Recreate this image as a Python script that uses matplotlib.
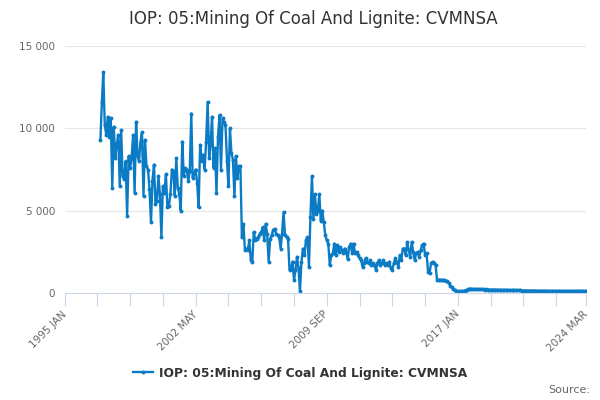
import numpy as np
import pandas as pd
from matplotlib import pyplot as plt
from matplotlib.lines import Line2D

# monthly values, 1997 JAN .. 2024 MAR
v1997 = [9300, 11600, 13400, 10200, 9600, 10700, 9500, 10600, 6400, 10100, 8200, 9000]
v1998 = [9600, 6500, 9900, 7100, 6900, 8000, 4700, 8300, 7600, 8200, 9600, 6100]
v1999 = [10400, 8300, 8000, 9200, 9750, 5900, 9300, 7700, 7500, 6300, 4300, 6800]
v2000 = [7800, 5400, 5600, 7100, 6000, 3400, 6500, 6100, 7200, 5200, 5300, 6000]
v2001 = [7500, 7400, 5900, 8200, 6400, 6000, 5000, 9200, 7100, 7600, 7500, 6800]
v2002 = [7400, 10900, 7000, 7200, 7500, 6700, 5200, 9000, 8000, 8400, 7500, 9200]
v2003 = [11600, 8200, 9000, 10700, 7600, 8800, 6100, 9500, 10800, 7500, 10600, 10400]
v2004 = [10200, 8000, 6500, 10000, 8500, 8100, 5900, 8300, 7000, 7700, 7700, 3400]
v2005 = [4200, 2600, 2700, 2600, 3200, 2000, 1900, 3700, 3200, 3300, 3400, 3600]
v2006 = [3700, 4000, 3200, 4200, 3600, 1900, 3300, 3500, 3800, 3900, 3600, 3500]
v2007 = [3400, 2700, 3600, 4900, 3500, 3400, 3300, 1400, 1500, 1900, 800, 1400]
v2008 = [2200, 1500, 100, 1900, 2700, 2300, 3200, 3400, 1600, 4600, 7100, 4500]
v2009 = [6000, 4800, 5000, 6000, 4400, 5000, 4300, 3500, 3200, 3000, 1700, 2300]
v2010 = [2400, 3000, 2300, 2900, 2500, 2800, 2600, 2400, 2700, 2500, 2050, 2800]
v2011 = [3000, 2400, 3000, 2400, 2500, 2300, 2100, 2000, 1600, 1800, 2100, 1900]
v2012 = [1800, 2000, 1700, 1800, 1700, 1400, 1800, 2000, 1700, 1800, 2000, 1700]
v2013 = [1800, 1700, 1900, 1500, 1400, 1800, 2100, 1900, 1600, 2300, 2000, 2700]
v2014 = [2700, 2300, 3100, 2600, 2200, 3100, 2500, 2000, 2400, 2500, 2200, 2600]
v2015 = [2900, 3000, 2300, 2400, 1300, 1200, 1800, 1900, 1800, 1700, 800, 800]
v2016 = [800, 780, 790, 760, 750, 700, 600, 450, 350, 250, 180, 130]
v2017 = [100, 100, 100, 110, 130, 150, 200, 250, 260, 250, 240, 240]
v2018 = [230, 230, 220, 220, 230, 220, 210, 220, 210, 210, 200, 200]
v2019 = [200, 200, 190, 200, 190, 190, 180, 190, 180, 180, 180, 170]
v2020 = [170, 170, 160, 170, 160, 160, 160, 150, 150, 150, 150, 140]
v2021 = [150, 140, 140, 140, 140, 130, 130, 130, 130, 130, 130, 130]
v2022 = [130, 120, 120, 120, 120, 120, 120, 120, 120, 120, 120, 120]
v2023 = [120, 120, 110, 120, 120, 120, 120, 120, 120, 120, 120, 120]
v2024 = [120, 120, 120]

values = (v1997 + v1998 + v1999 + v2000 + v2001 + v2002 + v2003 + v2004 + v2005
          + v2006 + v2007 + v2008 + v2009 + v2010 + v2011 + v2012 + v2013 + v2014
          + v2015 + v2016 + v2017 + v2018 + v2019 + v2020 + v2021 + v2022 + v2023 + v2024)
dates = pd.date_range("1997-01-01", periods=len(values), freq="MS")

series_name = "IOP: 05:Mining Of Coal And Lignite: CVMNSA"
major_labels = ["1995 JAN", "2002 MAY", "2009 SEP", "2017 JAN", "2024 MAR"]
major_dates = pd.to_datetime(["1995-01-01", "2002-05-01", "2009-09-01", "2017-01-01", "2024-03-01"])
minor_dates = pd.to_datetime(["1996-11-01", "1998-09-01", "2000-07-01",
                              "2004-03-01", "2006-01-01", "2007-11-01",
                              "2011-07-01", "2013-05-01", "2015-03-01",
                              "2018-11-01", "2020-09-01", "2022-07-01"])
y_ticks = [0, 5000, 10000, 15000]
y_labels = ["0", "5 000", "10 000", "15 000"]

color = "#0a7bc4"
axis_col = "#ccd6eb"

fig = plt.figure(figsize=(6, 4), dpi=100)
ax = fig.add_axes([64.6 / 600, 107 / 400, 521.4 / 600, 247 / 400])

ax.plot(dates, values, color=color, lw=1.7, marker="o", ms=2.8, mew=0)

ax.set_xlim(major_dates[0], major_dates[-1])
ax.set_ylim(0, 15000)

ax.set_yticks(y_ticks)
ax.set_yticklabels(y_labels, fontsize=7.5, color="#666666")
ax.yaxis.grid(True, color="#e6e6e6", lw=0.8)
ax.set_axisbelow(True)
ax.tick_params(axis="y", length=0, pad=7)

ax.set_xticks(major_dates)
ax.set_xticklabels(major_labels, rotation=45, ha="right", va="center",
                   rotation_mode="anchor", fontsize=7.5, color="#666666")
ax.set_xticks(minor_dates, minor=True)
ax.tick_params(axis="x", which="both", length=9, color=axis_col, width=0.8, pad=5)

for s in ["top", "right", "left"]:
    ax.spines[s].set_visible(False)
ax.spines["bottom"].set_color(axis_col)
ax.spines["bottom"].set_linewidth(0.8)

fig.suptitle(series_name, x=0.522, y=0.975, fontsize=12, color="#333333")

handle = Line2D([], [], color=color, lw=1.7, marker="o", ms=2.8, mew=0)
leg = fig.legend([handle], [series_name], loc="center", bbox_to_anchor=(0.5, 0.0675),
                 frameon=False, fontsize=8.8, handlelength=1.6, handletextpad=0.5)
for t in leg.get_texts():
    t.set_fontweight("bold")
    t.set_color("#333333")

fig.text(0.983, 0.012, "Source:", ha="right", va="bottom", fontsize=8, color="#666666")

fig.savefig("out.png", dpi=100)
